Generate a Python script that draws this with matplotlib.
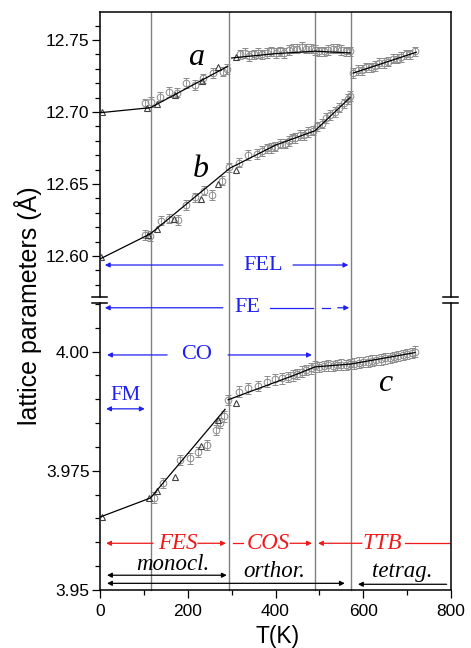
import matplotlib
matplotlib.use("Agg")
import matplotlib.pyplot as plt
from matplotlib.ticker import MultipleLocator, FixedLocator, FixedFormatter

plt.rcParams["font.family"] = ["Liberation Sans", "DejaVu Sans"]
SERIF = ["Liberation Serif", "DejaVu Serif"]

# ---- data (T in K, lattice parameters in Angstrom) ----
# a axis
a_circ_T = [103, 116, 137, 157, 175, 197, 216, 235, 258, 280, 289,
            320, 330, 340, 350, 360, 370, 380, 390, 400, 410, 420, 430, 440,
            450, 460, 470, 480, 490, 500, 510, 520, 530, 540, 550, 560, 570,
            577, 587, 597, 607, 617, 627, 637, 647, 657, 667, 677, 687, 697,
            707, 717]
a_circ_v = [12.706, 12.707, 12.7106, 12.714, 12.7134, 12.720, 12.7187,
            12.7234, 12.727, 12.728, 12.730,
            12.740, 12.741, 12.739, 12.740, 12.741, 12.740, 12.741, 12.742,
            12.741, 12.742, 12.741, 12.743, 12.744, 12.744, 12.745, 12.744,
            12.744, 12.743, 12.742, 12.742, 12.743, 12.744, 12.744, 12.743,
            12.742, 12.742,
            12.727, 12.729, 12.729, 12.731, 12.731, 12.732, 12.734, 12.734,
            12.735, 12.737, 12.737, 12.738, 12.740, 12.740, 12.742]
a_tri_T = [4, 108, 129, 171, 232, 269, 309]
a_tri_v = [12.700, 12.7026, 12.7056, 12.7118, 12.7217, 12.7315, 12.738]
a_fit = [([0, 115, 290], [12.6995, 12.703, 12.7315]),
         ([300, 400, 490, 570], [12.7375, 12.7405, 12.7422, 12.7410]),
         ([577, 721], [12.727, 12.7415])]

# b axis
b_circ_T = [103, 114, 138, 157, 177, 197, 217, 238, 256, 277, 293,
            317, 338, 357, 370, 380, 390, 399, 410, 422, 430, 437, 445, 455,
            465, 475, 485, 495, 505, 515, 525, 535, 545, 555, 565, 570]
b_circ_v = [12.6146, 12.6139, 12.6246, 12.626, 12.625, 12.6355, 12.6408,
            12.6454, 12.6424, 12.6523, 12.6616,
            12.6648, 12.670, 12.671, 12.673, 12.6748, 12.675, 12.676, 12.678,
            12.678, 12.680, 12.6817, 12.682, 12.684, 12.684, 12.686, 12.687,
            12.690, 12.692, 12.696, 12.698, 12.700, 12.703, 12.706, 12.709,
            12.711]
b_tri_T = [2, 110, 129, 169, 230, 270, 311]
b_tri_v = [12.5996, 12.6146, 12.6186, 12.6255, 12.6399, 12.650, 12.6597]
b_fit = [([0, 115, 296, 400, 490, 570],
          [12.598, 12.6155, 12.661, 12.677, 12.687, 12.710])]

# c axis
c_circ_T = [123, 144, 182, 204, 224, 243, 264, 273, 283, 292,
            317, 338, 359, 380, 399, 414, 429, 440, 450, 460, 470, 480, 490,
            500, 510, 520, 530, 540, 550, 560, 570,
            580, 590, 600, 610, 620, 630, 640, 650, 660, 670, 680, 690, 700,
            710, 718]
c_circ_v = [3.9694, 3.9724, 3.9773, 3.9776, 3.9790, 3.9804, 3.9836, 3.9850,
            3.9864, 3.9899,
            3.9916, 3.9923, 3.9928, 3.9937, 3.9942, 3.9944, 3.9947, 3.9950,
            3.9953, 3.9958, 3.9961, 3.9965, 3.9969, 3.9968, 3.9970, 3.9971,
            3.9970, 3.9972, 3.9973, 3.9972, 3.9974,
            3.9975, 3.9977, 3.9978, 3.9979, 3.9981, 3.9982, 3.9984, 3.9986,
            3.9987, 3.9989, 3.9991, 3.9993, 3.9995, 3.9997, 4.0000]
c_tri_T = [4, 112, 131, 171, 230, 270, 311]
c_tri_v = [3.9653, 3.9693, 3.9708, 3.9738, 3.9803, 3.9857, 3.9893]
c_fit = [([0, 115, 285], [3.9653, 3.9693, 3.9879]),
         ([292, 444, 490, 572, 718], [3.9899, 3.9951, 3.9968, 3.9974, 3.9998])]

err_top = 0.0033
err_bot = 0.0011

transitions = [116, 293, 490, 572]

BLUE = "#2020f0"
RED = "#f01818"
GRAY = "#8a8a8a"
TRI = "#404040"

W, H = 471, 648
fig = plt.figure(figsize=(W / 100, H / 100), dpi=100)
ax_top = fig.add_axes([100 / W, (H - 297) / H, 351 / W, 285 / H])
ax_bot = fig.add_axes([100 / W, (H - 590) / H, 351 / W, 287 / H])


def draw_series(ax, cT, cv, tT, tv, fits, err):
    ax.errorbar(cT, cv, yerr=err, fmt="o", ms=4.8, mfc="none", mec=GRAY,
                mew=0.7, ecolor=GRAY, elinewidth=0.6, capsize=2.2,
                capthick=0.6, zorder=2)
    ax.plot(tT, tv, "^", ms=5, mfc="none", mec=TRI, mew=0.8, zorder=3)
    for xs, ys in fits:
        ax.plot(xs, ys, color="black", lw=0.9, zorder=4)


draw_series(ax_top, a_circ_T, a_circ_v, a_tri_T, a_tri_v, a_fit, err_top)
draw_series(ax_top, b_circ_T, b_circ_v, b_tri_T, b_tri_v, b_fit, err_top)
draw_series(ax_bot, c_circ_T, c_circ_v, c_tri_T, c_tri_v, c_fit, err_bot)

gap = 6 / 287
for t in transitions:
    ax_top.axvline(t, color="#808080", lw=1.0, zorder=1)
    ax_bot.axvline(t, ymin=0, ymax=1 + gap, color="#808080", lw=1.0,
                   zorder=1, clip_on=False)

for ax in (ax_top, ax_bot):
    ax.set_xlim(0, 800)
    for s in ax.spines.values():
        s.set_linewidth(1.1)
    ax.tick_params(which="both", direction="out", right=False, top=False,
                   labelsize=12.5, width=0.9)
    ax.tick_params(which="major", length=6)
    ax.tick_params(which="minor", length=3.4)
    ax.tick_params(axis="y", pad=1.5)

ax_top.set_ylim(12.5716, 12.7694)
ax_top.spines["bottom"].set_visible(False)
ax_top.tick_params(axis="x", which="both", bottom=False, labelbottom=False)
ax_top.yaxis.set_major_locator(FixedLocator([12.60, 12.65, 12.70, 12.75]))
ax_top.yaxis.set_major_formatter(FixedFormatter(["12.60", "12.65", "12.70", "12.75"]))
ax_top.yaxis.set_minor_locator(MultipleLocator(0.01))

ax_bot.set_ylim(3.95, 4.0102)
ax_bot.spines["top"].set_visible(False)
ax_bot.yaxis.set_major_locator(FixedLocator([3.95, 3.975, 4.00]))
ax_bot.yaxis.set_major_formatter(FixedFormatter(["3.95", "3.975", "4.00"]))
ax_bot.yaxis.set_minor_locator(MultipleLocator(0.005))
ax_bot.xaxis.set_major_locator(MultipleLocator(200))
ax_bot.xaxis.set_minor_locator(MultipleLocator(100))
ax_bot.tick_params(axis="x", pad=4)

# break marks on both spines
bw0, bw1 = -8 / 351, 7 / 351
for ax, yb in ((ax_top, 0.0), (ax_bot, 1.0)):
    for x0 in (0.0, 1.0):
        ax.plot([x0 + bw0, x0 + bw1], [yb, yb], color="black", lw=1.1,
                transform=ax.transAxes, clip_on=False)


def arrow(ax, x0, x1, y, color, style="-|>", ls="-"):
    ax.annotate("", xy=(x1, y), xytext=(x0, y),
                arrowprops=dict(arrowstyle=style, color=color, lw=0.9,
                                shrinkA=0, shrinkB=0, mutation_scale=7,
                                linestyle=ls))


def label(ax, x, y, s, color, size, italic=False):
    ax.text(x, y, s, color=color, fontsize=size, family=SERIF,
            style="italic" if italic else "normal", ha="center", va="center")


# curve labels
label(ax_top, 219, 12.7375, "a", "black", 23, True)
label(ax_top, 230, 12.660, "b", "black", 23, True)
label(ax_bot, 650, 3.9934, "c", "black", 23, True)

# blue ranges
y_fel = 12.5938
arrow(ax_top, 280, 11, y_fel, BLUE)
label(ax_top, 372, y_fel, "FEL", BLUE, 16)
arrow(ax_top, 440, 566, y_fel, BLUE)

y_fe = 4.0092
arrow(ax_bot, 280, 11, y_fe, BLUE)
label(ax_bot, 335, y_fe, "FE", BLUE, 16)
ax_bot.plot([387, 486], [y_fe, y_fe], color=BLUE, lw=0.9)
ax_bot.plot([505, 524], [y_fe, y_fe], color=BLUE, lw=0.9)
arrow(ax_bot, 542, 568, y_fe, BLUE)

y_co = 3.9993
arrow(ax_bot, 153, 16, y_co, BLUE)
label(ax_bot, 219, y_co, "CO", BLUE, 16)
arrow(ax_bot, 292, 483, y_co, BLUE)

label(ax_bot, 59, 3.9909, "FM", BLUE, 15)
arrow(ax_bot, 14, 102, 3.9880, BLUE, "<|-|>")

# red structural phases
y_red = 3.9598
arrow(ax_bot, 121, 14, y_red, RED)
label(ax_bot, 177, y_red, "FES", RED, 16.5, True)
arrow(ax_bot, 223, 287, y_red, RED)
ax_bot.plot([303, 326], [y_red, y_red], color=RED, lw=0.9)
label(ax_bot, 383, y_red, "COS", RED, 16.5, True)
arrow(ax_bot, 433, 483, y_red, RED)
arrow(ax_bot, 597, 497, y_red, RED)
label(ax_bot, 644, y_red, "TTB", RED, 16.5, True)
ax_bot.plot([695, 798], [y_red, y_red], color=RED, lw=0.9)

# black symmetry ranges
label(ax_bot, 167, 3.9554, "monocl.", "black", 16.5, True)
arrow(ax_bot, 16, 289, 3.9531, "black", "<|-|>")
label(ax_bot, 397, 3.9538, "orthor.", "black", 16.5, True)
arrow(ax_bot, 16, 558, 3.9514, "black", "<|-|>")
label(ax_bot, 688, 3.9539, "tetrag.", "black", 16.5, True)
arrow(ax_bot, 790, 588, 3.9512, "black")

fig.text(28 / W, 1 - 306 / H, "lattice parameters (Å)", rotation=90,
         fontsize=18, ha="center", va="center")
fig.text(278 / W, 1 - 636 / H, "T(K)", fontsize=16.5, ha="center",
         va="center")

fig.savefig("out.png", dpi=100)
